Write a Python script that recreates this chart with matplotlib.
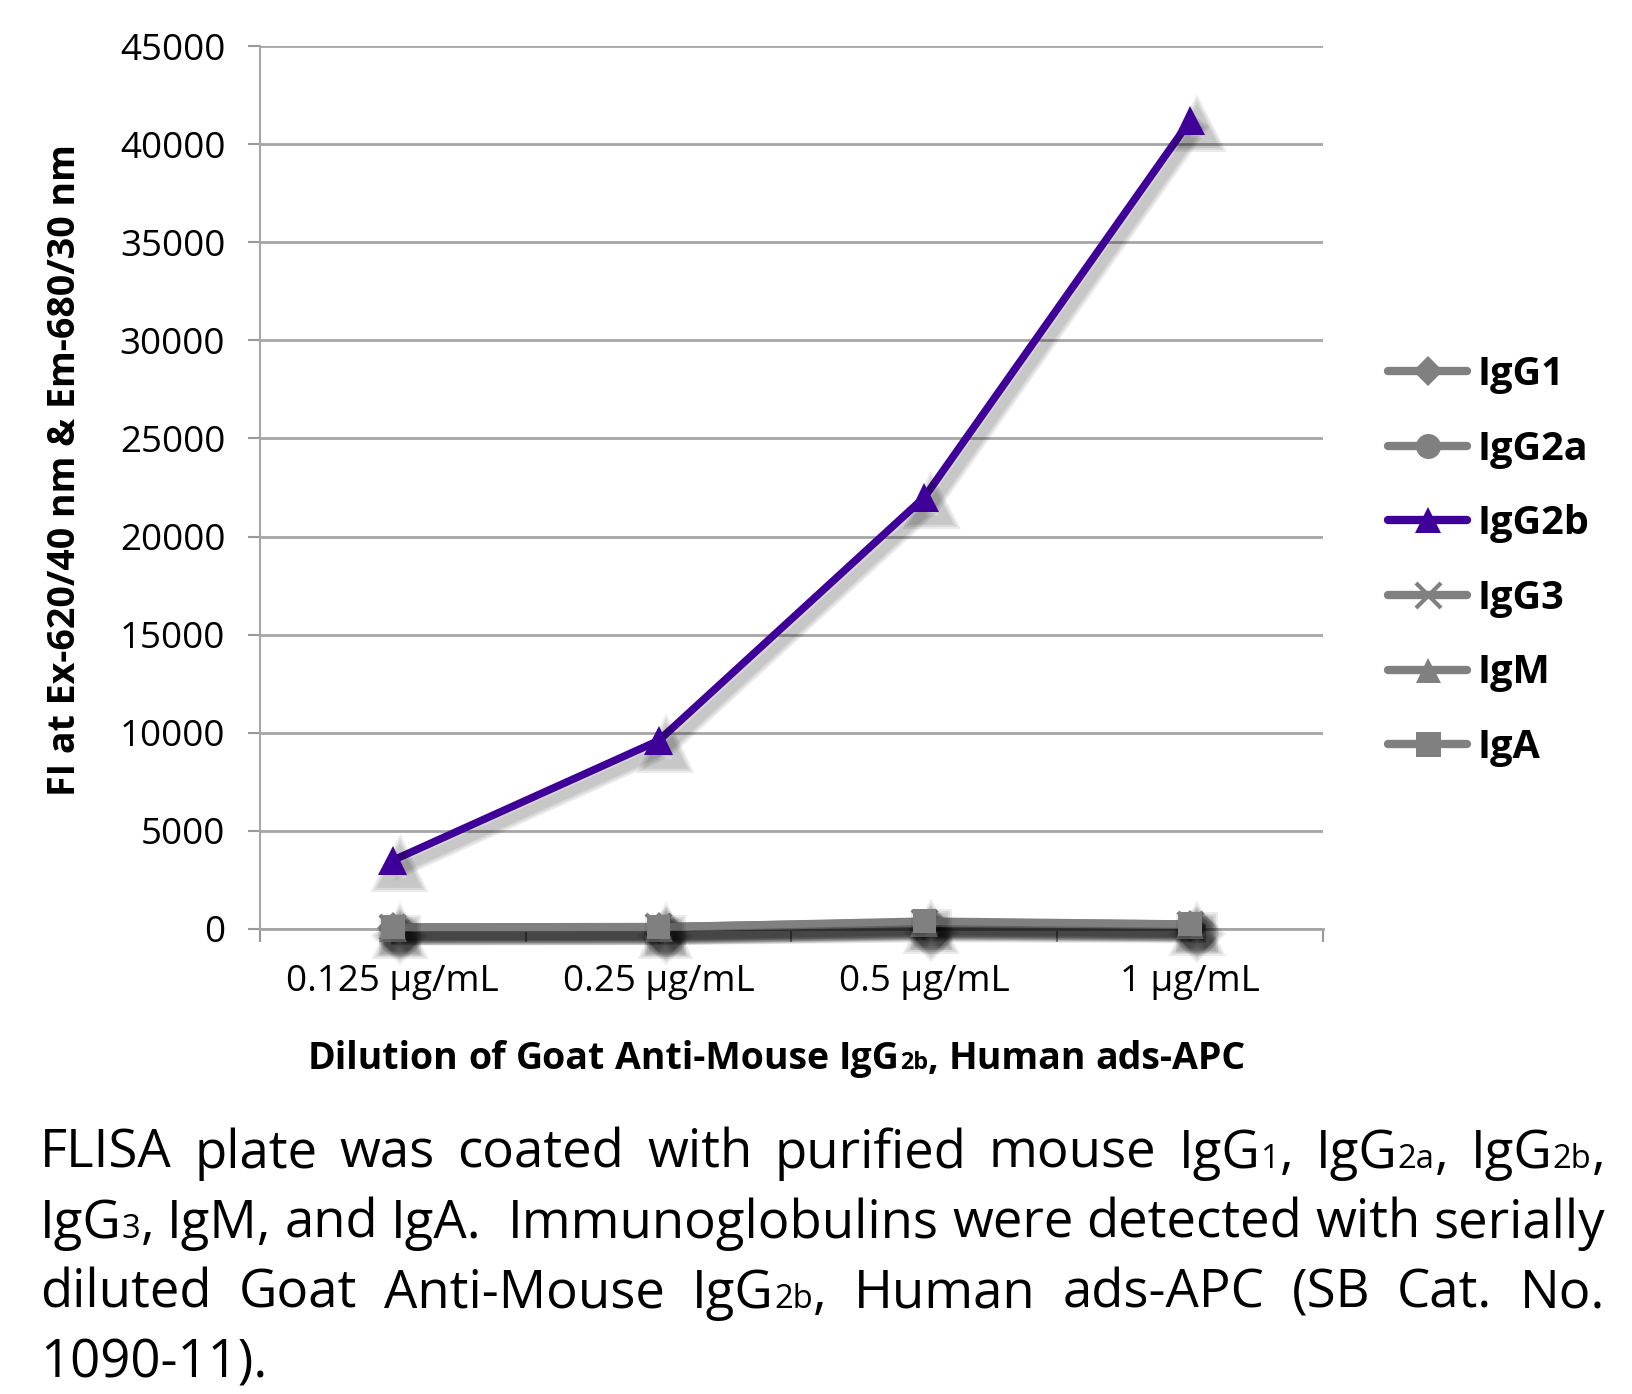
import matplotlib
matplotlib.use('Agg')
import matplotlib.pyplot as plt
import matplotlib.patheffects as pe
from matplotlib.lines import Line2D

plt.rcParams['font.family'] = ['Open Sans', 'DejaVu Sans']

# data
categories = ['0.125 µg/mL', '0.25 µg/mL', '0.5 µg/mL', '1 µg/mL']
series_names = ['IgG1', 'IgG2a', 'IgG2b', 'IgG3', 'IgM', 'IgA']
igg1 = [50, 60, 200, 150]
igg2a = [80, 80, 250, 200]
igg2b = [3500, 9600, 22000, 41200]
igg3 = [100, 120, 350, 250]
igm = [60, 70, 300, 200]
iga = [90, 100, 400, 250]
y_ticks = list(range(0, 45001, 5000))

W, H = 1633, 1394
GRAY = '#808080'
PURPLE = '#3f0099'

fig = plt.figure(figsize=(W / 100, H / 100), dpi=100)
ax = fig.add_axes([260 / W, 1 - 929 / H, (1323 - 260) / W, (929 - 46) / H])

x = list(range(len(categories)))
styles = [
    (igg1, GRAY, 'D', 16),
    (igg2a, GRAY, 'o', 18),
    (igg3, GRAY, 'x', 18),
    (igm, GRAY, '^', 20),
    (iga, GRAY, 's', 17),
    (igg2b, PURPLE, '^', 21),
]
# soft drop shadow, faked with a few wide faint copies
shadow = [pe.SimpleLineShadow(offset=(5, -6), alpha=0.08, shadow_color='k', linewidth=lw)
          for lw in (13, 10, 7)] + [pe.Normal()]
for vals, col, mk, ms in styles:
    ax.plot(x, vals, color=col, lw=5.5, marker=mk, ms=ms, mew=3 if mk == 'x' else 0,
            mec=col, path_effects=shadow, clip_on=False, zorder=3)

ax.set_xlim(-0.5, len(categories) - 0.5)
ax.set_ylim(0, 45000)
ax.set_yticks(y_ticks)
ax.set_yticklabels([str(v) for v in y_ticks], fontsize=26.5)
ax.set_xticks(x)
ax.set_xticklabels(categories, fontsize=26.5)
ax.set_xticks([i - 0.5 for i in range(len(categories) + 1)], minor=True)
ax.tick_params(axis='x', which='major', length=0, pad=25)
ax.tick_params(axis='x', which='minor', length=9, width=1.5, color='#999999', direction='out')
ax.tick_params(axis='y', length=9, width=1.5, color='#999999', pad=16)
ax.grid(axis='y', color='#a6a6a6', lw=2)
ax.set_axisbelow(True)
for s in ['top', 'right']:
    ax.spines[s].set_visible(False)
ax.spines['left'].set_color('#a6a6a6')
ax.spines['left'].set_linewidth(1.5)
ax.spines['bottom'].set_color('#a6a6a6')
ax.spines['bottom'].set_linewidth(2)

fig.text(65 / W, 1 - 470 / H, 'FI at Ex-620/40 nm & Em-680/30 nm', rotation=90,
         fontsize=27, fontweight='bold', ha='center', va='center')

# legend
handles = []
for name in series_names:
    if name == 'IgG2b':
        handles.append(Line2D([], [], color=PURPLE, lw=6, marker='^', ms=19, mew=0,
                              solid_capstyle='round'))
    else:
        mk = {'IgG1': 'D', 'IgG2a': 'o', 'IgG3': 'x', 'IgM': '^', 'IgA': 's'}[name]
        handles.append(Line2D([], [], color=GRAY, lw=6, marker=mk, ms=18 if mk != 'D' else 15,
                              mew=3 if mk == 'x' else 0, solid_capstyle='round'))
fig.legend(handles, series_names, loc='center left', bbox_to_anchor=(1388 / W, 1 - 561 / H),
           frameon=False, prop={'size': 28.5, 'weight': 'bold'}, handlelength=2.0,
           handletextpad=0.25, labelspacing=0.9, borderaxespad=0, borderpad=0)

renderer = fig.canvas.get_renderer()


def parse(word):
    # 'IgG{2b},' -> [('IgG', False), ('2b', True), (',', False)]
    out, buf, small = [], '', False
    for ch in word:
        if ch in '{}':
            if buf:
                out.append((buf, small))
            buf, small = '', ch == '{'
        else:
            buf += ch
    if buf:
        out.append((buf, small))
    return out


def seg_width(txt, size, weight):
    t = fig.text(0, 0, txt, fontsize=size, fontweight=weight)
    w = t.get_window_extent(renderer).width
    t.remove()
    return w


def draw_words(text, y, x0, x1=None, size=36, weight='normal', center=False):
    # a double space counts as a wider gap
    chunks = text.replace('  ', ' \x00').split(' ')
    words, weights = [], []
    for c in chunks:
        if c.startswith('\x00'):
            weights[-1] = 2
            c = c[1:]
        words.append(c)
        weights.append(1)
    weights = weights[:-1]
    parsed = [parse(w) for w in words]
    widths = [[seg_width(s, size * (0.62 if sm else 1), weight) for s, sm in p] for p in parsed]
    total = sum(sum(w) for w in widths)
    space = seg_width('a b', size, weight) - seg_width('ab', size, weight)
    if x1 is not None and len(words) > 1:
        gap = (x1 - x0 - total) / sum(weights)
    else:
        gap = space
    if center:
        x0 = x0 - (total + gap * sum(weights)) / 2
    cx = x0
    for i, (p, ws) in enumerate(zip(parsed, widths)):
        for (s, sm), w in zip(p, ws):
            fig.text(cx / W, 1 - y / H, s, fontsize=size * (0.62 if sm else 1),
                     fontweight=weight, ha='left', va='baseline')
            cx += w
        if i < len(weights):
            cx += gap * weights[i]


# x axis title
draw_words('Dilution of Goat Anti-Mouse IgG{2b}, Human ads-APC', 1069, 777,
           size=27, weight='bold', center=True)

# caption
lines = [
    'FLISA plate was coated with purified mouse IgG{1}, IgG{2a}, IgG{2b},',
    'IgG{3}, IgM, and IgA.  Immunoglobulins were detected with serially',
    'diluted Goat Anti-Mouse IgG{2b}, Human ads-APC (SB Cat. No.',
    '1090-11).',
]
base = [1168, 1238, 1308, 1377]
for i, (ln, yb) in enumerate(zip(lines, base)):
    draw_words(ln, yb, 40, 1605 if i < 3 else None, size=38)

fig.savefig('out.png', dpi=100)
